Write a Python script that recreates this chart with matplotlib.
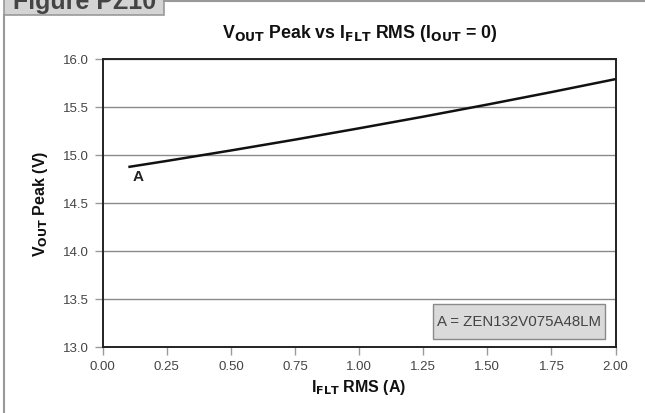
import matplotlib
matplotlib.use("Agg")
import matplotlib.pyplot as plt
from matplotlib.patches import Rectangle
from matplotlib.lines import Line2D

# ---- data ----
i_flt = [0.10, 0.25, 0.50, 0.75, 1.00, 1.25, 1.50, 1.75, 2.00]
v_out = [14.87, 14.933, 15.042, 15.155, 15.273, 15.394, 15.52, 15.65, 15.785]
x_ticks = [0.00, 0.25, 0.50, 0.75, 1.00, 1.25, 1.50, 1.75, 2.00]
y_ticks = [13.0, 13.5, 14.0, 14.5, 15.0, 15.5, 16.0]
curve_label = "A"
legend_text = "A = ZEN132V075A48LM"
title_text = r"V$_{OUT}$ Peak vs I$_{FLT}$ RMS (I$_{OUT}$ = 0)"
xlabel_text = r"I$_{FLT}$ RMS (A)"
ylabel_text = r"V$_{OUT}$ Peak (V)"
figure_tag = "Figure PZ10"

NARROW = ["Liberation Sans Narrow", "Liberation Sans", "DejaVu Sans"]
REG = ["Liberation Sans", "DejaVu Sans"]

plt.rcParams["mathtext.fontset"] = "custom"
plt.rcParams["mathtext.bf"] = "Liberation Sans Narrow:bold"
plt.rcParams["mathtext.rm"] = "Liberation Sans Narrow:bold"
plt.rcParams["mathtext.default"] = "bf"

W, H = 645, 414
fig = plt.figure(figsize=(W / 100, H / 100), dpi=100)
fig.patch.set_facecolor("white")

def fx(px):
    return px / W

def fy(py):
    return 1 - py / H

ax = fig.add_axes([fx(102.7), fy(347.5), fx(615.5) - fx(102.7), fy(59.5) - fy(347.5)])
ax.set_xlim(0, 2.0)
ax.set_ylim(13.0, 16.0)
ax.set_xticks(x_ticks)
ax.set_yticks(y_ticks)
ax.set_xticklabels([f"{t:.2f}" for t in x_ticks])
ax.set_yticklabels([f"{t:.1f}" for t in y_ticks])
ax.yaxis.grid(True, color="#8a8a8a", linewidth=1.0)
ax.set_axisbelow(True)
for s in ax.spines.values():
    s.set_color("#222222")
    s.set_linewidth(1.4)
ax.tick_params(axis="both", direction="out", length=6, width=1.0, color="#9a9a9a",
               labelcolor="#444444", pad=4)
for lab in ax.get_xticklabels() + ax.get_yticklabels():
    lab.set_family(REG)
    lab.set_fontsize(9.5)

ax.plot(i_flt, v_out, color="#111111", linewidth=1.8, solid_capstyle="butt",
        solid_joinstyle="round", zorder=3)
ax.text(0.138, 14.774, curve_label, ha="center", va="center", fontsize=11,
        fontweight="bold", family=REG, color="#222222")

# legend box (axes coords)
bx0 = (433 - 102.7) / 512.8
bx1 = (605 - 102.7) / 512.8
by0 = (347.5 - 340) / 288
by1 = (347.5 - 305) / 288
ax.add_patch(Rectangle((bx0, by0), bx1 - bx0, by1 - by0, transform=ax.transAxes,
                       facecolor="#dadada", edgecolor="#8a8a8a", linewidth=1.0, zorder=4))
ax.text((bx0 + bx1) / 2, (by0 + by1) / 2, legend_text, transform=ax.transAxes,
        ha="center", va="center", fontsize=10.8, family=REG, color="#444444", zorder=5)

# title and labels
fig.text(fx(360), fy(38), title_text, ha="center", va="baseline", fontsize=12.8,
         fontweight="bold", family=NARROW, color="#111111")
fig.text(fx(359), fy(388), xlabel_text, ha="center", va="center", fontsize=11.5,
         fontweight="bold", family=NARROW, color="#111111")
fig.text(fx(40), fy(203.5), ylabel_text, ha="center", va="center", rotation=90,
         fontsize=11.5, fontweight="bold", family=NARROW, color="#111111")

# outer frame and figure tab
fig.add_artist(Line2D([fx(164), fx(645)], [fy(1.5), fy(1.5)], transform=fig.transFigure,
                      color="#999999", linewidth=1.5))
fig.add_artist(Line2D([fx(4), fx(4)], [fy(15.7), fy(414)], transform=fig.transFigure,
                      color="#999999", linewidth=1.5))
fig.add_artist(Rectangle((fx(4), fy(15.7)), fx(164) - fx(4), fy(-20) - fy(15.7),
                         transform=fig.transFigure, facecolor="#d4d4d4",
                         edgecolor="#999999", linewidth=1.2))
fig.text(fx(13), fy(9), figure_tag, ha="left", va="baseline", fontsize=18,
         fontweight="bold", family=REG, color="#444444")

fig.savefig("out.png", dpi=100)
